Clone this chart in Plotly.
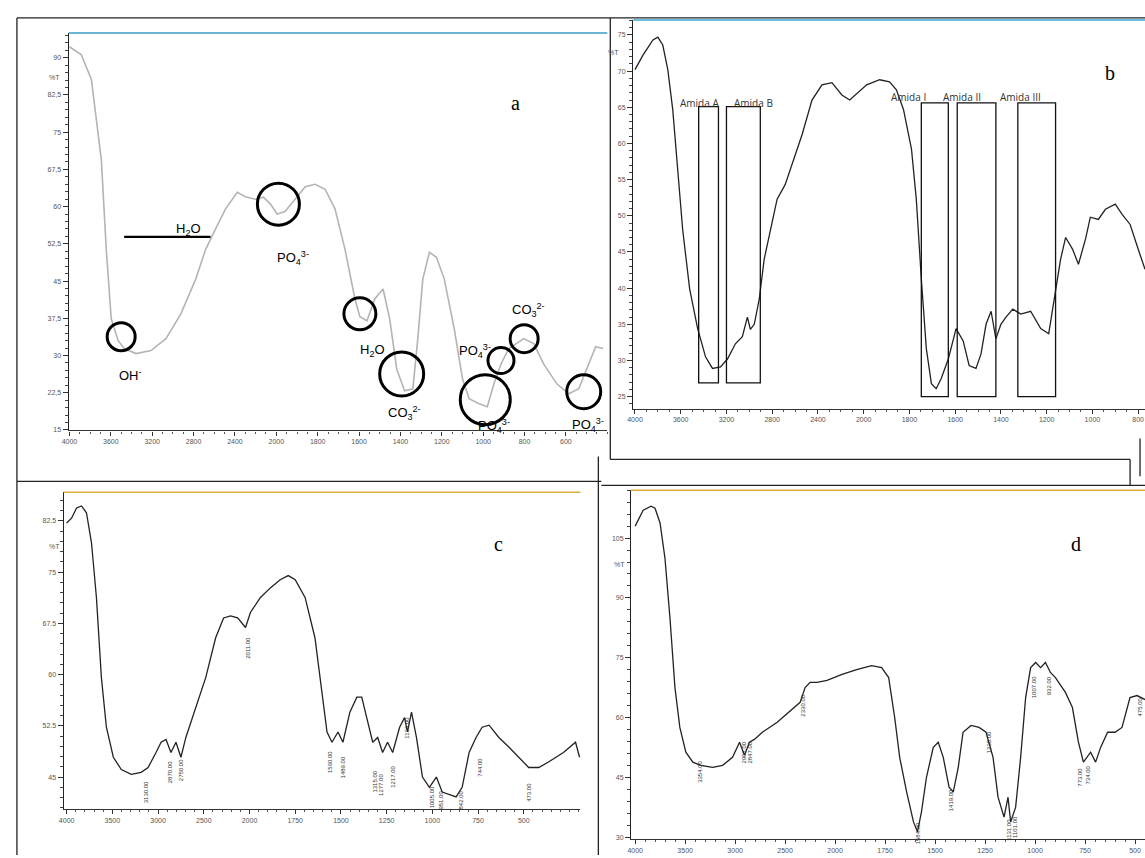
import numpy as np
import plotly.graph_objects as go

W, H = 1145, 858

# ---------------- data ----------------
# panel a (light grey spectrum)
a_wn = [4000, 3885, 3788, 3692, 3644, 3596, 3529, 3471, 3356, 3212, 3067, 2923, 2779, 2683, 2587, 2492,
        2377, 2300, 2204, 2125, 2057, 1996, 1958, 1909, 1860, 1812, 1764, 1716, 1668, 1620, 1596, 1562,
        1524, 1484, 1452, 1418, 1380, 1340, 1316, 1292, 1260, 1226, 1188, 1140, 1100, 1068, 1020, 980,
        948, 914, 876, 840, 804, 756, 708, 644, 586, 538, 490, 456, 420]
a_T = [92.2, 90.6, 85.6, 69.5, 51.4, 37.4, 33.0, 31.4, 30.4, 31.0, 33.4, 38.4, 45.4, 51.4, 55.5, 59.5,
       62.9, 62.0, 61.5, 61.9, 60.5, 58.5, 59.0, 61.5, 64.0, 64.5, 63.5, 59.5, 51.4, 41.4, 37.8, 37.0,
       41.4, 43.4, 37.4, 27.3, 22.9, 23.3, 33.4, 45.4, 50.8, 49.8, 45.4, 35.4, 25.3, 21.3, 20.3, 19.7,
       24.3, 28.3, 31.4, 32.4, 33.4, 32.4, 28.3, 24.3, 22.3, 23.3, 28.3, 31.8, 31.4]

# panel b
b_wn = [4000, 3930, 3843, 3800, 3757, 3713, 3670, 3626, 3583, 3522, 3452, 3383, 3322, 3252, 3191, 3122,
        3061, 3017, 2991, 2957, 2913, 2870, 2817, 2757, 2687, 2626, 2539, 2452, 2365, 2278, 2191, 2122,
        2052, 1987, 1930, 1887, 1857, 1826, 1791, 1770, 1748, 1726, 1704, 1683, 1661, 1630, 1596, 1565,
        1539, 1509, 1487, 1465, 1443, 1422, 1400, 1378, 1348, 1313, 1270, 1226, 1191, 1161, 1139, 1117,
        1087, 1061, 1030, 1009, 974, 943, 900, 870, 835, 800, 770]
b_T = [70.2, 72.2, 74.3, 74.7, 73.6, 70.2, 64.7, 56.4, 48.1, 39.9, 34.4, 30.5, 28.9, 29.1, 30.2, 32.3,
       33.3, 36.0, 34.3, 35.0, 38.5, 44.0, 48.1, 52.3, 54.3, 57.1, 61.2, 66.0, 68.1, 68.4, 66.7, 66.0,
       67.0, 68.1, 68.8, 68.5, 67.4, 64.7, 59.2, 52.3, 41.3, 31.6, 26.8, 26.1, 27.5, 30.2, 34.4, 32.7,
       29.3, 28.9, 30.9, 35.0, 36.8, 33.0, 35.0, 36.0, 37.1, 36.4, 36.8, 34.4, 33.7, 39.9, 44.0, 47.0,
       45.4, 43.3, 46.8, 49.8, 49.5, 50.9, 51.6, 50.2, 48.8, 45.4, 42.6]

# panel c
c_wn = [4000, 3946, 3891, 3837, 3783, 3728, 3674, 3620, 3565, 3489, 3402, 3293, 3185, 3109, 3022, 2967,
        2913, 2859, 2804, 2750, 2696, 2587, 2478, 2370, 2283, 2207, 2130, 2043, 1995, 1940, 1886, 1832,
        1788, 1750, 1696, 1642, 1598, 1576, 1549, 1516, 1489, 1451, 1413, 1386, 1359, 1326, 1299, 1272,
        1245, 1217, 1179, 1152, 1136, 1114, 1087, 1054, 1016, 978, 946, 908, 870, 837, 799, 761, 728,
        690, 636, 582, 527, 473, 418, 365, 283, 217, 195]
c_T = [82.2, 82.9, 84.4, 84.7, 83.7, 79.3, 71.3, 59.6, 52.3, 47.9, 46.1, 45.4, 45.7, 46.4, 48.6, 50.1,
       50.5, 48.6, 50.1, 47.9, 50.8, 55.2, 59.6, 65.4, 68.3, 68.6, 68.3, 66.9, 69.1, 71.3, 72.7, 73.9,
       74.5, 73.9, 71.3, 65.4, 56.7, 51.6, 50.1, 51.6, 50.1, 54.5, 56.7, 56.7, 53.7, 50.1, 50.8, 48.6,
       50.1, 48.6, 52.3, 53.7, 51.6, 54.5, 50.8, 45.0, 43.5, 45.0, 42.8, 42.4, 42.1, 43.5, 48.6, 50.8, 52.3,
       52.6, 50.8, 49.4, 47.9, 46.4, 46.4, 47.2, 48.6, 50.1, 47.9]

# panel d
d_wn = [4000, 3920, 3841, 3801, 3751, 3702, 3652, 3602, 3553, 3493, 3423, 3344, 3225, 3125, 3026, 2956,
        2906, 2857, 2807, 2728, 2579, 2430, 2350, 2300, 2250, 2180, 2081, 1965, 1892, 1817, 1767, 1732,
        1702, 1677, 1642, 1608, 1588, 1568, 1543, 1509, 1484, 1459, 1430, 1409, 1384, 1360, 1320, 1280,
        1245, 1210, 1185, 1155, 1135, 1122, 1097, 1072, 1047, 1022, 997, 972, 948, 923, 898, 848, 813,
        783, 758, 722, 697, 672, 637, 600, 565, 525, 490, 450]
d_T = [108.0, 112.0, 113.0, 112.5, 108.8, 100.0, 85.0, 67.5, 57.5, 51.3, 48.8, 48.0, 47.5, 48.0, 50.0, 53.8,
       50.5, 53.8, 54.5, 56.3, 58.8, 62.0, 63.8, 67.5, 68.8, 68.8, 69.3, 70.8, 72.0, 73.0, 72.5, 70.0,
       60.0, 50.0, 41.3, 33.8, 31.3, 36.3, 45.0, 52.5, 53.8, 50.0, 42.5, 41.3, 47.5, 56.3, 58.0, 57.5,
       56.3, 50.0, 40.0, 35.0, 40.0, 33.8, 37.5, 50.0, 65.0, 72.5, 73.8, 72.5, 73.8, 71.3, 70.0, 66.3, 62.5,
       53.8, 48.8, 51.3, 48.8, 52.5, 56.3, 56.3, 57.5, 65.0, 65.5, 64.5]

# tick labels
ticks_ab = [4000, 3600, 3200, 2800, 2400, 2000, 1800, 1600, 1400, 1200, 1000, 800, 600]
ticks_b = [4000, 3600, 3200, 2800, 2400, 2000, 1800, 1600, 1400, 1200, 1000, 800]
ticks_cd = [4000, 3500, 3000, 2500, 2000, 1750, 1500, 1250, 1000, 750, 500]
yt_a = [90, 82.5, 75, 67.5, 60, 52.5, 45, 37.5, 30, 22.5, 15]
yt_a_txt = ["90", "82,5", "75", "67,5", "60", "52,5", "45", "37,5", "30", "22,5", "15"]
yt_b = [75, 70, 65, 60, 55, 50, 45, 40, 35, 30, 25]
yt_c = [82.5, 75, 67.5, 60, 52.5, 45]
yt_d = [105, 90, 75, 60, 45, 30]

# panel a band annotations (circle centres and diameters)
circ_wn = [3500, 1990, 1596, 1394, 990, 914, 802, 514]
circ_T = [33.8, 60.5, 38.4, 26.3, 21.1, 29.0, 33.4, 22.7]
circ_d = [28, 42, 32, 44, 50, 26, 28, 34]
h2o_wn = [3471, 2636]
h2o_T = [53.9, 53.9]

# panel b amide regions
amide_names = ["Amida A", "Amida B", "Amida I", "Amida II", "Amida III"]
amide_wn0 = [3443, 3200, 1748, 1591, 1326]
amide_wn1 = [3270, 2904, 1630, 1422, 1161]
amide_Ttop = [65.1, 65.1, 65.6, 65.6, 65.6]
amide_Tbot = [26.9, 26.9, 25.0, 25.0, 25.0]

# peak marks panels c and d
pk_c_wn = [3130, 2870, 2750, 2011, 1560, 1489, 1315, 1277, 1217, 1136, 1005, 951, 842, 744, 473]
pk_c_T = [42.8, 45.7, 46.0, 64.0, 47.2, 46.4, 44.3, 43.8, 45.0, 52.3, 42.1, 41.6, 41.6, 46.4, 42.8]
pk_d_wn = [3354, 2907, 2847, 2330, 1584, 1419, 1230, 1131, 1101, 1007, 932, 773, 734, 475]
pk_d_T = [46.3, 51.3, 51.3, 63.0, 31.0, 39.3, 53.8, 31.8, 32.5, 67.5, 68.0, 45.0, 45.5, 62.5]


# ---------------- helpers ----------------
def pos_ab(w):
    w = np.asarray(w, float)
    return np.where(w >= 2000, (4000 - w) / 400.0, 5 + (2000 - w) / 200.0)


def pos_cd(w):
    w = np.asarray(w, float)
    return np.where(w >= 2000, (4000 - w) / 500.0, 4 + (2000 - w) / 250.0)


def dx(p0, p1):
    return [p0 / W, p1 / W]


def dy(top, bot):
    return [1 - bot / H, 1 - top / H]


def px(x):
    return x / W


def py(y):
    return 1 - y / H


fig = go.Figure()

fig.add_trace(go.Scatter(x=pos_ab(a_wn), y=a_T, mode="lines", line=dict(color="#b4b4b4", width=1.6),
                         xaxis="x", yaxis="y", hoverinfo="skip"))
fig.add_trace(go.Scatter(x=pos_ab(h2o_wn), y=h2o_T, mode="lines", line=dict(color="black", width=2.2),
                         xaxis="x", yaxis="y"))
fig.add_trace(go.Scatter(x=pos_ab(circ_wn), y=circ_T, mode="markers", xaxis="x", yaxis="y",
                         marker=dict(symbol="circle-open", size=circ_d, color="black", opacity=1,
                                     line=dict(width=3, color="black"))))
fig.add_trace(go.Scatter(x=pos_ab(b_wn), y=b_T, mode="lines", line=dict(color="#222", width=1.3),
                         xaxis="x2", yaxis="y2"))
fig.add_trace(go.Scatter(x=pos_cd(c_wn), y=c_T, mode="lines", line=dict(color="#222", width=1.3),
                         xaxis="x3", yaxis="y3"))
fig.add_trace(go.Scatter(x=pos_cd(d_wn), y=d_T, mode="lines", line=dict(color="#222", width=1.3),
                         xaxis="x4", yaxis="y4"))

tickfont = dict(family="Liberation Sans", size=7, color="#555")


def xax(dom, rng, vals, texts, minor_dt, anchor):
    return dict(domain=dom, range=rng, tickmode="array", tickvals=vals, ticktext=texts,
                showline=True, linecolor="#333", linewidth=1.2, ticks="outside", ticklen=4,
                tickcolor="#333", tickfont=tickfont, showgrid=False, zeroline=False, anchor=anchor,
                minor=dict(tickmode="linear", tick0=0, dtick=minor_dt, ticks="outside", ticklen=2,
                           tickcolor="#555"))


def yax(dom, rng, vals, texts, minor0, minor_dt, anchor):
    return dict(domain=dom, range=rng, tickmode="array", tickvals=vals, ticktext=texts,
                showline=True, linecolor="#222", linewidth=1.2, ticks="outside", ticklen=5,
                tickcolor="#333", tickfont=tickfont, showgrid=False, zeroline=False, anchor=anchor,
                minor=dict(tickmode="linear", tick0=minor0, dtick=minor_dt, ticks="outside", ticklen=3,
                           tickcolor="#444"))


fig.update_layout(
    width=W, height=H, margin=dict(l=0, r=0, t=0, b=0), showlegend=False,
    paper_bgcolor="white", plot_bgcolor="white",
    xaxis=xax(dx(62, 604), [-0.02, 13.0], list(range(len(ticks_ab))), [str(t) for t in ticks_ab], 0.25, "y"),
    yaxis=yax(dy(33, 432), [14.9, 95.0], yt_a, yt_a_txt, 15, 1.5, "x"),
    xaxis2=xax(dx(630, 1145), [-0.04, 11.15], list(range(len(ticks_b))), [str(t) for t in ticks_b], 0.25, "y2"),
    yaxis2=yax(dy(20, 410), [23.35, 77.07], yt_b, [str(t) for t in yt_b], 25, 1, "x2"),
    xaxis3=xax(dx(57, 577), [-0.065, 11.24], list(range(len(ticks_cd))), [str(t) for t in ticks_cd], 0.2, "y3"),
    yaxis3=yax(dy(494, 812), [40.3, 86.7], yt_c, [str(t) for t in yt_c], 45, 1.5, "x3"),
    xaxis4=xax(dx(628, 1145), [-0.08, 10.2], list(range(len(ticks_cd))), [str(t) for t in ticks_cd], 0.2, "y4"),
    yaxis4=yax(dy(492, 842), [29.5, 117.0], yt_d, [str(t) for t in yt_d], 30, 3, "x4"),
)

shapes = []
for xr, yr, col in [("x", "y", "#3a9cc0"), ("x2", "y2", "#3aa6d6"), ("x3", "y3", "#d8b040"), ("x4", "y4", "#e0a838")]:
    shapes.append(dict(type="line", xref=xr + " domain", yref=yr + " domain", x0=0, x1=1, y0=1, y1=1,
                       line=dict(color=col, width=1.5)))
for w0, w1, t0, t1 in zip(amide_wn0, amide_wn1, amide_Ttop, amide_Tbot):
    shapes.append(dict(type="rect", xref="x2", yref="y2", x0=float(pos_ab(w0)), x1=float(pos_ab(w1)),
                       y0=t1, y1=t0, line=dict(color="#111", width=1.3)))
frame = [(10, 18, 1145, 18), (10, 18, 10, 858), (10, 483, 598, 483), (607, 18, 607, 461),
         (607, 461, 1130, 461), (1130, 461, 1130, 487), (598, 487, 1145, 487), (595, 458, 595, 858),
         (1140, 440, 1140, 478)]
for x0, y0, x1, y1 in frame:
    shapes.append(dict(type="line", xref="paper", yref="paper", x0=px(x0), y0=py(y0), x1=px(x1), y1=py(y1),
                       line=dict(color="#222", width=1.3)))
fig.update_layout(shapes=shapes)

ann = []
lab_font = dict(family="Liberation Sans", size=13, color="black")
for txt, x, y in [("OH<sup>-</sup>", 111, 376), ("H<sub>2</sub>O", 168, 220),
                  ("PO<sub>4</sub><sup>3-</sup>", 270, 248), ("H<sub>2</sub>O", 353, 352),
                  ("CO<sub>3</sub><sup>2-</sup>", 400, 414), ("PO<sub>4</sub><sup>3-</sup>", 471, 352),
                  ("PO<sub>4</sub><sup>3-</sup>", 490, 427), ("CO<sub>3</sub><sup>2-</sup>", 525, 311),
                  ("PO<sub>4</sub><sup>3-</sup>", 585, 426)]:
    ann.append(dict(text=txt, x=px(x), y=py(y), xref="paper", yref="paper", showarrow=False, font=lab_font))
for name, x, y in zip(amide_names, [697, 751, 927, 982, 1042], [94, 94, 88, 88, 88]):
    ann.append(dict(text=name, x=px(x), y=py(y), xref="paper", yref="paper", showarrow=False,
                    font=dict(family="Open Sans", size=10, color="#333")))
for t, x, y in [("a", 512, 90), ("b", 1117, 60), ("c", 495, 546), ("d", 1083, 546)]:
    ann.append(dict(text=t, x=px(x), y=py(y), xref="paper", yref="paper", showarrow=False,
                    font=dict(family="Liberation Serif", size=20, color="black")))
for x, y in [(40, 72), (610, 47), (40, 548), (616, 566)]:
    ann.append(dict(text="%T", x=px(x), y=py(y), xref="paper", yref="paper", showarrow=False,
                    font=dict(family="Liberation Sans", size=7, color="#555")))
for w, t in zip(pk_c_wn, pk_c_T):
    ann.append(dict(text=f"{w:.2f}", x=float(pos_cd(w)), y=t, xref="x3", yref="y3", showarrow=False,
                    textangle=-90, font=dict(family="Liberation Sans", size=6, color="#333")))
for w, t in zip(pk_d_wn, pk_d_T):
    ann.append(dict(text=f"{w:.2f}", x=float(pos_cd(w)), y=t, xref="x4", yref="y4", showarrow=False,
                    textangle=-90, font=dict(family="Liberation Sans", size=6, color="#333")))
fig.update_layout(annotations=ann)

fig.write_html("out.html", config={"displayModeBar": False},
               post_script="document.body.style.margin='0';document.body.style.overflow='hidden';")
